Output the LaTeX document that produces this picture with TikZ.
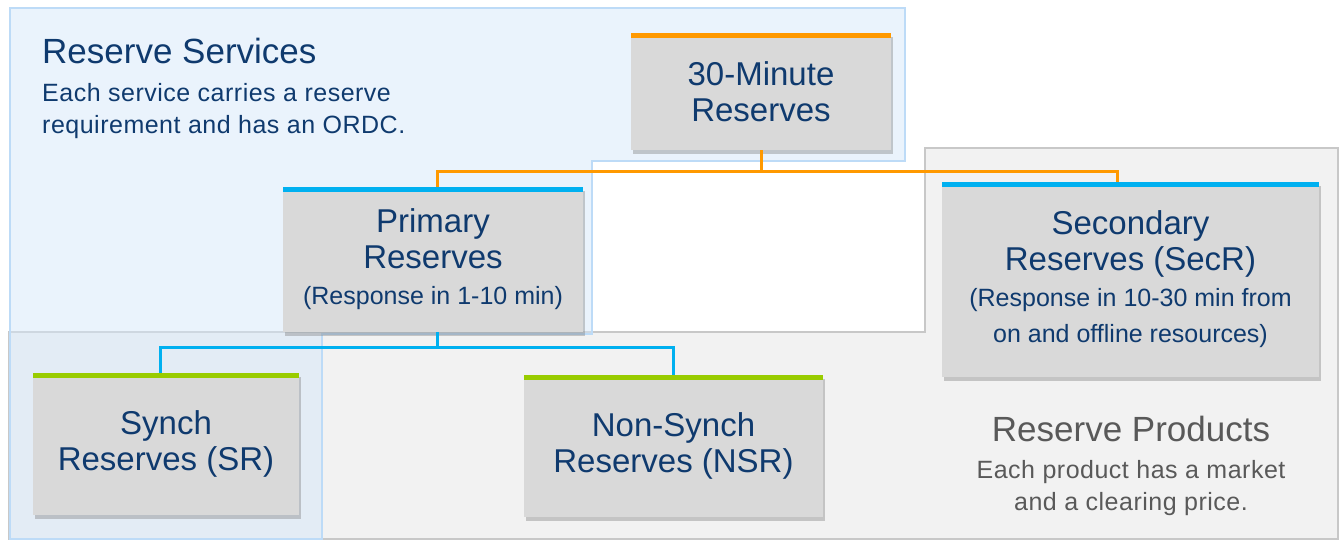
\documentclass[tikz,border=0pt]{standalone}
\usepackage{fontspec}
\setmainfont{Liberation Sans}
\usetikzlibrary{positioning}
\usetikzlibrary{shadows}

\definecolor{navy}{RGB}{15,58,110}
\definecolor{greytext}{RGB}{89,89,89}
\definecolor{orangebar}{RGB}{255,153,0}
\definecolor{bluebar}{RGB}{0,176,240}
\definecolor{greenbar}{RGB}{153,204,0}
\definecolor{boxgrey}{RGB}{217,217,217}
\definecolor{servfill}{RGB}{213,231,249}
\definecolor{servline}{RGB}{189,219,247}
\definecolor{prodfill}{RGB}{242,242,242}
\definecolor{prodline}{RGB}{200,200,200}

\newcommand{\bigtxt}{\fontsize{33}{36}\selectfont}
\newcommand{\smalltxt}{\fontsize{25}{34}\selectfont}

\begin{document}
\begin{tikzpicture}[x=1pt, y=-1pt,
    resbox/.style={fill=boxgrey, text=navy, align=center, font=\bigtxt, inner sep=0pt,
        drop shadow={shadow xshift=1.5pt, shadow yshift=-4pt, opacity=0.4}},
    topbar/.style={path picture={\fill[#1] (path picture bounding box.north west)
        rectangle ([yshift=-5pt]path picture bounding box.north east);}},
    link/.style={line width=3pt, draw=#1},
    heading/.style={font=\fontsize{35}{40}\selectfont, inner sep=0pt},
    caption/.style={font=\fontsize{25}{32}\selectfont\addfontfeature{LetterSpace=2}, inner sep=0pt}]
    \useasboundingbox (0,0) rectangle (1344,541);

    \filldraw[fill=prodfill, draw=prodline, line width=2pt]
        (9,332) -- (925,332) -- (925,148) -- (1338,148) -- (1338,539) -- (9,539) -- cycle;
    \filldraw[fill=servfill, fill opacity=0.5, draw=servline, line width=2pt]
        (10,8) -- (905,8) -- (905,161) -- (592,161) -- (592,334) -- (322,334) -- (322,539) -- (10,539) -- cycle;

    \node[heading, text=navy, anchor=base west] (servtitle) at (42,63) {Reserve Services};
    \node[caption, text=navy, align=left, below=20pt of servtitle.south west, anchor=north west] (servtext)
        {Each service carries a reserve\\requirement and has an ORDC.};

    \node[heading, text=greytext, anchor=base] (prodtitle) at (1131,441) {Reserve Products};
    \node[caption, text=greytext, align=center, below=19pt of prodtitle.south, anchor=north] (prodtext)
        {Each product has a market\\and a clearing price.};

    \node[resbox, topbar=orangebar, minimum width=260pt, minimum height=117pt] (thirty) at (761,91.5)
        {30-Minute\\Reserves};
    \node[resbox, topbar=bluebar, minimum width=300pt, minimum height=145pt] (primary) at (433,259.5)
        {Primary\\Reserves\\{\smalltxt (Response in 1-10 min)}};
    \node[resbox, topbar=bluebar, minimum width=377pt, minimum height=195pt] (secondary) at (1130.5,279.5)
        {Secondary\\Reserves (SecR)\\{\smalltxt (Response in 10-30 min from}\\{\smalltxt on and offline resources)}};
    \node[resbox, topbar=greenbar, minimum width=266pt, minimum height=142pt] (synch) at (166,444)
        {Synch\\Reserves (SR)};
    \node[resbox, topbar=greenbar, minimum width=299pt, minimum height=142pt] (nonsynch) at (673.5,446)
        {Non-Synch\\Reserves (NSR)};

    \draw[link=orangebar] (thirty.south) -- ++(0,21) -| ([xshift=4pt]primary.north);
    \draw[link=orangebar] (thirty.south) -- ++(0,21) -| ([xshift=-13pt]secondary.north);
    \draw[link=bluebar] ([xshift=4pt]primary.south) -- ++(0,15) -| ([xshift=-6pt]synch.north);
    \draw[link=bluebar] ([xshift=4pt]primary.south) -- ++(0,15) -| (nonsynch.north);
\end{tikzpicture}
\end{document}
